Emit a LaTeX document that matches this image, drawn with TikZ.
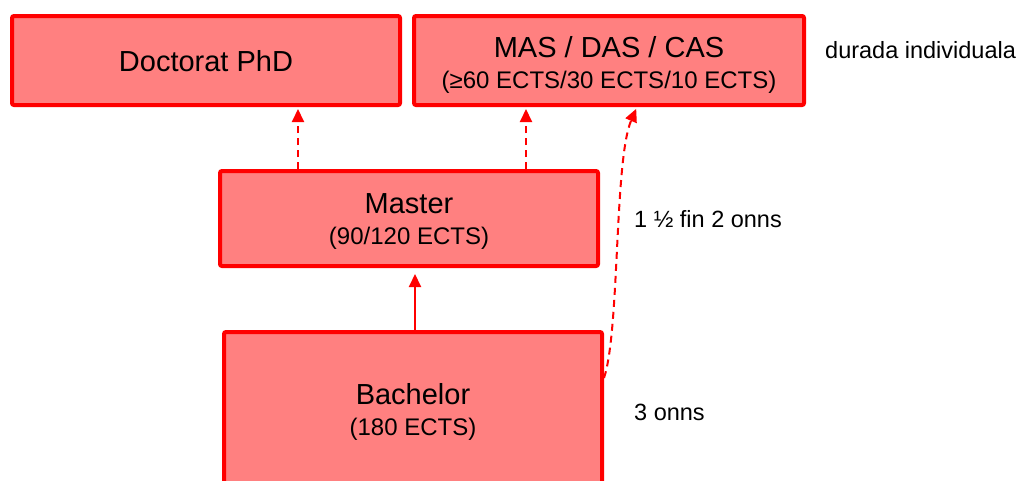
\documentclass[tikz,border=0pt]{standalone}
\usepackage{fontspec}
\setmainfont{Liberation Sans}
\usetikzlibrary{arrows.meta,calc}
\definecolor{boxfill}{HTML}{FF8080}
\definecolor{boxline}{HTML}{FF0000}
\newcommand{\ttlfont}{\fontsize{29}{31}\selectfont}
\newcommand{\subfont}{\fontsize{24}{31}\selectfont}
\tikzset{
  degbox/.style={draw=boxline, fill=boxfill, line width=4pt, rounded corners=2pt,
    inner sep=0pt, anchor=center},
  degtext/.style={align=center, inner sep=0pt, anchor=center, font=\ttlfont},
  dasharrow/.style={draw=boxline, line width=2pt, dash pattern=on 7pt off 5pt,
    -{Triangle[width=12pt,length=13pt]}},
  solidarrow/.style={draw=boxline, line width=2pt, -{Triangle[width=12pt,length=13pt]}},
  sidelabel/.style={anchor=west, inner sep=0pt, font=\fontsize{23.5}{28}\selectfont}
}
\begin{document}
\begin{tikzpicture}[x=1pt,y=-1pt]
\useasboundingbox (0,0) rectangle (1021,480);
\clip (0,0) rectangle (1021,480);
\node[degbox, minimum width=388pt, minimum height=89pt] (phd) at (206,60.5) {};
\node[degbox, minimum width=390pt, minimum height=89pt] (mas) at (609,60.5) {};
\node[degbox, minimum width=378pt, minimum height=95pt] (master) at (409,218.5) {};
\node[degbox, minimum width=378pt, minimum height=156pt] (bachelor) at (413,410) {};
\node[degtext] (tphd) at ($(phd.center)+(0,1)$) {Doctorat PhD};
\node[degtext] (tmas) at ($(mas.center)+(0,4.5)$)
  {MAS / DAS / CAS\\{\subfont (≥60 ECTS/30 ECTS/10 ECTS)}};
\node[degtext] (tmaster) at ($(master.center)+(0,3)$)
  {Master\\{\subfont (90/120 ECTS)}};
\node[degtext] (tbach) at ($(bachelor.center)+(0,2)$)
  {Bachelor\\{\subfont (180 ECTS)}};
\node[sidelabel] (lmas) at (825,50) {durada individuala};
\node[sidelabel] (lmaster) at (634,219) {1 ½ fin 2 onns};
\node[sidelabel] (lbach) at (634,412) {3 onns};
\coordinate (xa) at (298,0);
\coordinate (xb) at (526,0);
\coordinate (xc) at (415,0);
\coordinate (xd) at (637,0);
\coordinate (yb) at (0,378);
\draw[dasharrow, shorten >=2pt] (master.north -| xa) -- (phd.south -| xa);
\draw[dasharrow, shorten >=2pt] (master.north -| xb) -- (mas.south -| xb);
\draw[solidarrow, shorten >=6pt] (bachelor.north -| xc) -- (master.south -| xc);
\draw[dasharrow, shorten >=2pt] (bachelor.east |- yb) .. controls (620,330) and (614,160) .. (mas.south -| xd);
\end{tikzpicture}
\end{document}
